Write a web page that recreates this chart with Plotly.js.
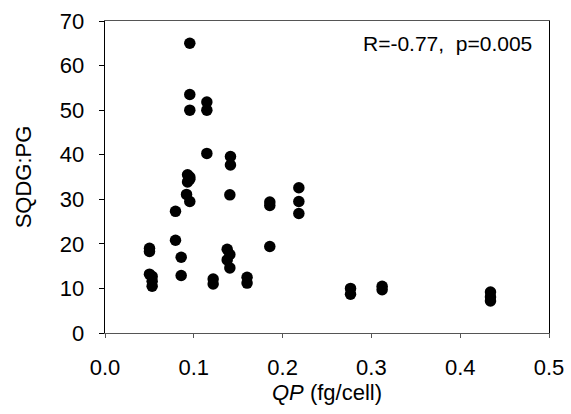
<!DOCTYPE html>
<html>
<head>
<meta charset="utf-8">
<script src="https://cdn.plot.ly/plotly-3.0.1.min.js"></script>
<style>html,body{margin:0;padding:0;background:#fff;}#chart{width:571px;height:414px;}</style>
</head>
<body>
<div id="chart"></div>
<script>
const qp = [0.0955, 0.0955, 0.0955, 0.1147, 0.1147, 0.1147, 0.1413, 0.1413,
  0.093, 0.0955, 0.093, 0.0955, 0.0918, 0.0955, 0.1406, 0.0794, 0.0794,
  0.0501, 0.0501, 0.0858, 0.0501, 0.0531, 0.0531, 0.0531, 0.0858,
  0.1376, 0.1406, 0.1376, 0.1406, 0.1218, 0.1218, 0.160, 0.160,
  0.1856, 0.1856, 0.1856, 0.2183, 0.2183, 0.2183, 0.2765, 0.2765,
  0.3121, 0.3121, 0.4341, 0.4341, 0.4341];
const sqdgPg = [65.0, 53.5, 50.0, 51.8, 50.0, 40.3, 39.6, 37.7,
  35.5, 35.0, 33.9, 34.5, 31.1, 29.5, 31.0, 27.3, 20.8,
  19.0, 18.3, 17.0, 13.2, 12.7, 11.6, 10.5, 12.9,
  18.8, 17.6, 16.4, 14.6, 12.1, 11.0, 12.5, 11.2,
  29.4, 28.6, 19.4, 32.6, 29.5, 26.8, 10.0, 8.7,
  10.5, 9.7, 9.2, 8.1, 7.2];
const xTicks = [0.0, 0.1, 0.2, 0.3, 0.4, 0.5];
const xTickText = ['0.0', '0.1', '0.2', '0.3', '0.4', '0.5'];
const yTicks = [0, 10, 20, 30, 40, 50, 60, 70];
const statText = 'R=-0.77,  p=0.005';

const font = 'Arial, "Liberation Sans", sans-serif';
const trace = {
  x: qp, y: sqdgPg, type: 'scatter', mode: 'markers',
  marker: {color: '#000', size: 11.5, line: {width: 0}},
  hoverinfo: 'none'
};
const layout = {
  width: 571, height: 414,
  margin: {l: 104.5, r: 22.3, t: 21, b: 80.7},
  paper_bgcolor: '#fff', plot_bgcolor: '#fff',
  showlegend: false,
  font: {family: font, color: '#000', size: 22},
  xaxis: {
    range: [0, 0.5], tickvals: xTicks, ticktext: xTickText,
    showgrid: false, zeroline: false,
    showline: true, linecolor: '#555', linewidth: 1.3, mirror: true,
    ticks: 'outside', ticklen: 4, tickcolor: '#555', tickwidth: 1,
    ticklabelstandoff: 10,
    tickfont: {family: font, size: 22, color: '#000'},
    title: {text: '<i>QP</i> (fg/cell)', font: {family: font, size: 22, color: '#000'}, standoff: 6}
  },
  yaxis: {
    range: [0, 70], tickvals: yTicks,
    showgrid: false, zeroline: false,
    showline: true, linecolor: '#000', linewidth: 1.3, mirror: true,
    ticks: 'outside', ticklen: 5, tickcolor: '#000', tickwidth: 1,
    ticklabelstandoff: 10,
    tickfont: {family: font, size: 22, color: '#000'},
    title: {text: 'SQDG:PG', font: {family: font, size: 22, color: '#000'}, standoff: 22}
  },
  annotations: [{
    text: statText, xref: 'paper', yref: 'paper', x: 0.967, y: 0.97,
    xanchor: 'right', yanchor: 'top', showarrow: false,
    font: {family: font, size: 21, color: '#000'}
  }]
};
Plotly.newPlot('chart', [trace], layout, {staticPlot: true, displayModeBar: false});
</script>
</body>
</html>
